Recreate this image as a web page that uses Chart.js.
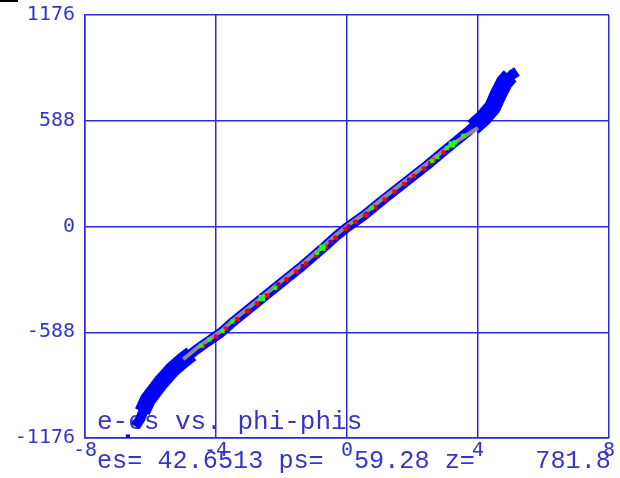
<!DOCTYPE html>
<html>
<head>
<meta charset="utf-8">
<script src="https://cdn.jsdelivr.net/npm/chart.js@4/dist/chart.umd.min.js"></script>
<style>
body { margin: 0; background: #fff; }
canvas { display: block; }
</style>
</head>
<body>
<canvas id="phaseChart" width="620" height="478"></canvas>
<script>
const ctx = document.getElementById('phaseChart').getContext('2d');

// axis ticks
const xTicks = [-8, -4, 0, 4, 8];
const yTicks = [-1176, -588, 0, 588, 1176];

// blue band, centre line  [phi-phis, e-es]
const bandMain = [[-6.47,-1112],[-6.32,-1073],[-6.08,-962],[-5.68,-867],[-5.33,-795],[-4.98,-740],
  [-4.60,-684],[-4.15,-628],[-3.85,-590],[-3.48,-530],[-2.53,-390],[-2.0,-312],[-1.37,-220],
  [-0.67,-110],[-0.34,-55],[0,-5],[0.52,62],[1.04,140],[1.74,240],[2.44,340],[3.02,428],
  [3.66,523],[4.17,605],[4.45,665],[4.62,735],[4.80,800],[5.05,845],[5.19,862]];
// the wider ends of the band
const bandLowTail = [[-6.25,-1030],[-6.08,-962],[-5.68,-867],[-5.33,-795],[-4.98,-740],[-4.75,-708]];
const bandHighTail = [[3.85,552],[4.17,605],[4.45,665],[4.62,735],[4.80,800],[4.98,838]];
const bandStray = [[-6.69,-1168]];

// denser cells inside the band
const grayCore = [[-5.0,-738],[-4.6,-678],[-4.15,-620],[-3.85,-582],[-3.48,-522],[-2.53,-382],
  [-2.0,-304],[-1.37,-212],[-0.67,-102],[-0.34,-47],[0,3],[0.52,70],[1.04,148],[1.74,248],
  [2.44,348],[3.02,434],[3.66,510],[4.0,548]];
const redCore = [[-4.4,-664],[-4.0,-612],[-3.7,-568],[-3.35,-515],[-3.05,-472],[-2.75,-428],
  [-2.45,-384],[-2.15,-338],[-1.85,-294],[-1.55,-250],[-1.25,-206],[-0.95,-160],[-0.65,-112],
  [-0.35,-62],[-0.05,-14],[0.25,26],[0.55,62],[0.85,108],[1.15,150],[1.45,194],[1.75,236],
  [2.05,280],[2.35,322],[2.65,368],[2.95,412],[3.25,456]];
const purpleCore = [[-3.0,-468],[-2.1,-322],[-1.35,-220],[-0.5,-86],[0.05,0],[0.6,70],
  [1.9,260],[2.55,352],[3.1,436]];
const greenCore = [[-4.45,-662],[-4.2,-628],[-3.8,-582],[-3.5,-528],[-2.2,-342],[-0.92,-146],
  [0.76,104],[2.6,364],[2.75,386],[3.05,436],[3.3,468],[3.55,504]];
const greenBig = [[-2.6,-398],[-0.75,-118],[3.2,456]];

const titleText = 'e-es vs. phi-phis';
const infoText = 'es= 42.6513 ps=  59.28 z=    781.8';

const blue = '#0000ff';
const gridBlue = '#2a2ad6';
const textBlue = '#3535c8';

function pts(arr) {
    return arr.map(p => ({x: p[0], y: p[1]}));
}

function lineSet(arr, color, width, order) {
    return {
        data: pts(arr), showLine: true, pointRadius: 0, borderColor: color,
        borderWidth: width, borderJoinStyle: 'round', order: order
    };
}

function dotSet(arr, color, radius, order) {
    return {
        data: pts(arr), showLine: false, pointStyle: 'rect', pointRadius: radius,
        pointBorderWidth: 0, pointBackgroundColor: color, order: order
    };
}

// text inside the plot, drawn under the points
const textPlugin = {
    id: 'textPlugin',
    beforeDatasetsDraw(chart) {
        const c = chart.ctx;
        c.save();
        c.fillStyle = textBlue;
        c.textBaseline = 'alphabetic';
        c.font = '26px "Liberation Mono"';
        c.fillText(titleText, 97, 429);
        c.font = '25.2px "Liberation Mono"';
        c.fillText(infoText, 97, 468);
        c.fillStyle = '#000';
        c.fillRect(0, 0, 18, 2);
        c.restore();
    }
};

new Chart(ctx, {
    type: 'scatter',
    data: {
        datasets: [
            lineSet(bandMain, blue, 10, 9),
            lineSet(bandLowTail, blue, 16, 9),
            lineSet(bandHighTail, blue, 17, 9),
            dotSet(bandStray, blue, 3, 9),
            lineSet(grayCore, '#8c8c8c', 4, 5),
            dotSet(purpleCore, '#800080', 3, 4),
            dotSet(redCore, '#ff0000', 3, 3),
            dotSet(greenCore, '#22ff00', 3, 2),
            dotSet(greenBig, '#22ff00', 4.5, 1)
        ]
    },
    options: {
        responsive: false,
        animation: false,
        layout: { padding: { top: 15, right: 11, left: 0, bottom: 0 } },
        plugins: {
            legend: { display: false },
            tooltip: { enabled: false }
        },
        scales: {
            x: {
                type: 'linear',
                min: xTicks[0],
                max: xTicks[xTicks.length - 1],
                afterBuildTicks: s => { s.ticks = xTicks.map(v => ({value: v})); },
                afterFit: s => { s.height = 40; s.paddingLeft = 0; s.paddingRight = 0; },
                ticks: {
                    color: textBlue,
                    padding: 1,
                    maxRotation: 0,
                    font: { family: 'DejaVu Sans Mono', size: 20 },
                    callback: v => String(v)
                },
                grid: { color: gridBlue, lineWidth: 1.5, drawTicks: false },
                border: { color: gridBlue, width: 1.5 }
            },
            y: {
                type: 'linear',
                min: yTicks[0],
                max: yTicks[yTicks.length - 1],
                afterBuildTicks: s => { s.ticks = yTicks.map(v => ({value: v})); },
                afterFit: s => { s.width = 85; s.paddingTop = 0; s.paddingBottom = 0; },
                ticks: {
                    color: textBlue,
                    padding: 10,
                    font: { family: 'DejaVu Sans Mono', size: 20 },
                    callback: v => String(v)
                },
                grid: { color: gridBlue, lineWidth: 1.5, drawTicks: false },
                border: { color: gridBlue, width: 1.5 }
            }
        }
    },
    plugins: [textPlugin]
});
</script>
</body>
</html>
